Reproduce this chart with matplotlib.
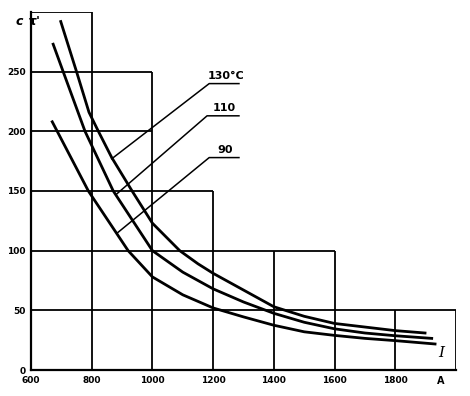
import matplotlib.pyplot as plt

# step outline of the grid (levels of the "staircase")
step_edges = [600, 800, 1000, 1200, 1600, 2000]
step_heights = [300, 250, 150, 100, 50]
grid_x = [800, 1000, 1200, 1400, 1600, 1800, 2000]
grid_y = [50, 100, 150, 200, 250, 300]

# curves, current I (A) vs time
I_130 = [698, 750, 791, 822, 866, 933, 1000, 1090, 1150, 1200, 1300, 1400, 1500, 1600, 1700, 1800, 1898]
t_130 = [292, 250, 216, 200, 178, 150, 123, 100, 89, 81, 67, 53, 45, 39, 36, 33, 31]
I_110 = [673, 706, 778, 871, 1000, 1100, 1200, 1300, 1400, 1500, 1600, 1700, 1800, 1920]
t_110 = [273, 250, 200, 150, 100, 82, 68, 57, 47.5, 40, 34.5, 31, 28.7, 26.5]
I_90 = [670, 789, 920, 1000, 1100, 1200, 1300, 1400, 1500, 1600, 1700, 1800, 1931]
t_90 = [208, 150, 100, 78, 63, 52, 44.5, 37.5, 32, 29, 26.5, 24.6, 21.8]

curve_labels = ["130°C", "110", "90"]
# leader lines: start on curve, bend point
leader_start = [(866, 177), (880, 147), (885, 115)]
leader_bend = [(1187, 240), (1180, 213), (1187, 178)]
leader_end_x = 1285

xticks = [600, 800, 1000, 1200, 1400, 1600, 1800]
yticks = [0, 50, 100, 150, 200, 250]


def height_at(x):
    # tallest step touching x
    h = 0
    for i in range(len(step_heights)):
        if step_edges[i] <= x <= step_edges[i + 1]:
            h = max(h, step_heights[i])
    return h


def width_at(y):
    w = step_edges[0]
    for i in range(len(step_heights)):
        if step_heights[i] >= y:
            w = step_edges[i + 1]
    return w


fig = plt.figure(figsize=(4.7, 3.96), dpi=100)
ax = fig.add_axes([31 / 470, 26 / 396, 425 / 470, 358 / 396])
ax.set_xlim(600, 2000)
ax.set_ylim(0, 300)

lw_grid = 1.3
for x in grid_x:
    ax.plot([x, x], [0, height_at(x)], color="black", lw=lw_grid, solid_capstyle="butt")
for y in grid_y:
    ax.plot([600, width_at(y)], [y, y], color="black", lw=lw_grid, solid_capstyle="butt")

for I, t in [(I_130, t_130), (I_110, t_110), (I_90, t_90)]:
    ax.plot(I, t, color="black", lw=2.0, solid_joinstyle="round")

for lab, s, b in zip(curve_labels, leader_start, leader_bend):
    ax.plot([s[0], b[0], leader_end_x], [s[1], b[1], b[1]], color="black", lw=1.1)
    ax.text((b[0] + leader_end_x) / 2 + 5, b[1] + 2, lab, fontsize=8, fontweight="bold",
            ha="center", va="bottom")

for s in ["top", "right"]:
    ax.spines[s].set_visible(False)
for s in ["left", "bottom"]:
    ax.spines[s].set_linewidth(1.6)

ax.set_xticks(xticks)
ax.set_yticks(yticks)
ax.tick_params(length=0, labelsize=6.5, pad=4)
for lbl in ax.get_xticklabels() + ax.get_yticklabels():
    lbl.set_fontweight("bold")

ax.text(560, 292, "с", fontsize=9, fontstyle="italic", fontweight="bold", ha="center", va="center")
ax.text(612, 292, "τ'", fontsize=9, fontweight="bold", ha="center", va="center")
ax.text(1951, 14, "I", fontsize=11, fontstyle="italic", ha="center", va="center", family="DejaVu Serif")
ax.text(1951, -9, "А", fontsize=7, fontweight="bold", ha="center", va="center", clip_on=False)

fig.savefig("out.png", dpi=100)
